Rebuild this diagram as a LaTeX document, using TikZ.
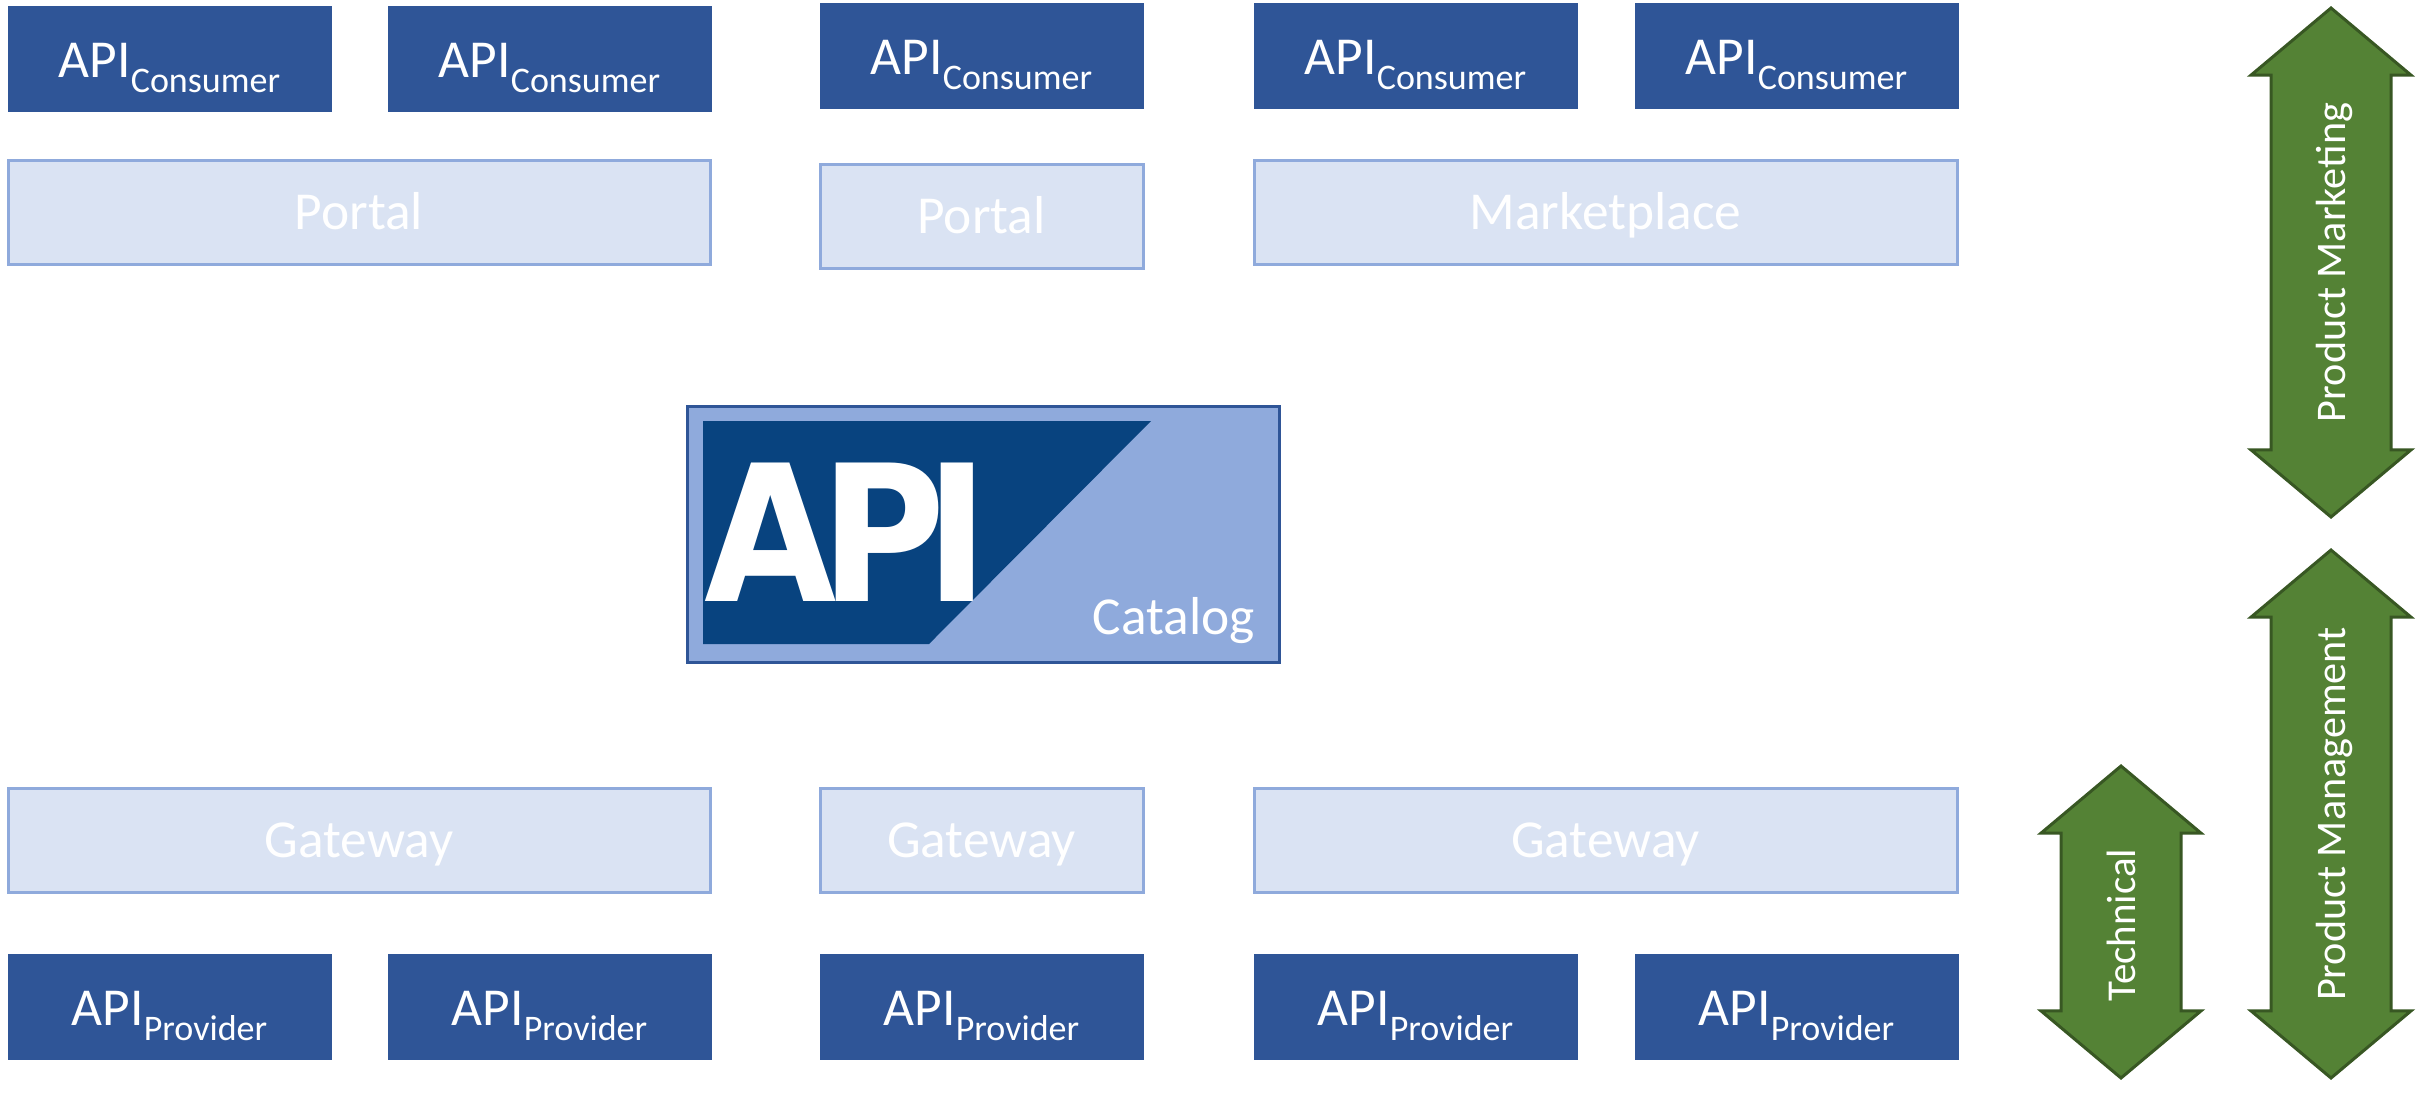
\documentclass[tikz,border=0pt]{standalone}
\usepackage{fontspec}
\usepackage{graphicx}
\setmainfont{Carlito}
\newfontfamily\logofont{DejaVu Sans}
\usepackage{xcolor}
\usetikzlibrary{arrows.meta,positioning,shapes.arrows}
\definecolor{apiblue}{HTML}{2F5597}
\definecolor{layerfill}{HTML}{DAE3F3}
\definecolor{layerline}{HTML}{8FAADC}
\definecolor{logoblue}{HTML}{08437F}
\definecolor{bandfill}{HTML}{548235}
\definecolor{bandline}{HTML}{385723}
\newcommand{\apirole}[1]{API\raisebox{-7.5pt}{\fontsize{18}{18}\selectfont #1}}
\begin{document}
\begin{tikzpicture}[
x=0.5pt,y=-0.5pt,
apibox/.style={fill=apiblue,draw=apiblue,outer sep=0pt,inner sep=0pt,minimum width=161.5pt,minimum height=52.5pt,text height=22pt,text depth=3.5pt,text=white,font=\fontsize{26.7}{30}\selectfont},
layer/.style={fill=layerfill,draw=layerline,line width=1.5pt,outer sep=0pt,inner sep=0pt,minimum height=52pt,text height=21.2pt,text depth=3.4pt,text=white,font=\fontsize{26.7}{30}\selectfont},
wide/.style={layer,minimum width=351pt},
narrow/.style={layer,minimum width=161.5pt},
band/.style={shape=double arrow,rotate=90,fill=bandfill,draw=bandline,line width=1.5pt,outer sep=0pt,inner xsep=0pt,inner ysep=19.6pt,text height=17pt,text depth=2.3pt,minimum width=79pt,double arrow head extend=10pt,double arrow tip angle=100,text=white,font=\fontsize{21.1}{24}\selectfont}
]
\useasboundingbox (0,0) rectangle (2420,1100);
% consumers and portals
\node[apibox,anchor=north west] (c1) at (8,6) {\apirole{Consumer}};
\node[apibox,right=28.5pt of c1] (c2) {\apirole{Consumer}};
\node[apibox,anchor=north west] (c3) at (820,3) {\apirole{Consumer}};
\node[apibox,right=55.5pt of c3] (c4) {\apirole{Consumer}};
\node[apibox,right=29pt of c4] (c5) {\apirole{Consumer}};
\node[wide,below right=24.5pt and 0pt of c1.south west] (portal1) {Portal};
\node[narrow,below right=28pt and 0pt of c3.south west] (portal2) {Portal};
\node[wide,minimum width=351.5pt,below right=26pt and 0pt of c4.south west] (market) {Marketplace};
% providers and gateways
\node[apibox,anchor=north west] (p1) at (8,954) {\apirole{Provider}};
\node[apibox,right=28.5pt of p1] (p2) {\apirole{Provider}};
\node[apibox,right=54.5pt of p2] (p3) {\apirole{Provider}};
\node[apibox,right=55.5pt of p3] (p4) {\apirole{Provider}};
\node[apibox,right=29pt of p4] (p5) {\apirole{Provider}};
\node[wide,above right=31pt and 0pt of p1.north west] (gate1) {Gateway};
\node[narrow,above right=31pt and 0pt of p3.north west] (gate2) {Gateway};
\node[wide,minimum width=351.5pt,above right=31pt and 0pt of p4.north west] (gate3) {Gateway};
% catalog
\node[fill=layerline,draw=apiblue,line width=1.5pt,outer sep=0pt,inner sep=0pt,minimum width=296pt,minimum height=128pt,anchor=north west] (catalog) at (687,406) {};
\fill[logoblue] (703,421) -- (1151,421) -- (929,644) -- (703,644) -- cycle;
\node[anchor=base west,inner sep=0pt,text=white] (logo) at (704,601) {\scalebox{0.9}[1]{\fontsize{95}{95}\logofont\bfseries A\kern-0.095em P\kern-0.12em I}};
\node[anchor=base east,inner sep=0pt,text=white,font=\fontsize{26.7}{30}\selectfont] (cataloglabel) at (1255,634) {Catalog};
% side arrows
\node[band,minimum height=254.5pt] (marketing) at (2331,262.5) {Product Marketing};
\node[band,minimum height=264pt] (management) at (2331,814) {Product Management};
\node[band,minimum height=156pt,font=\fontsize{20.5}{24}\selectfont] (technical) at (2121,922) {Technical\kern3pt};
\end{tikzpicture}
\end{document}
